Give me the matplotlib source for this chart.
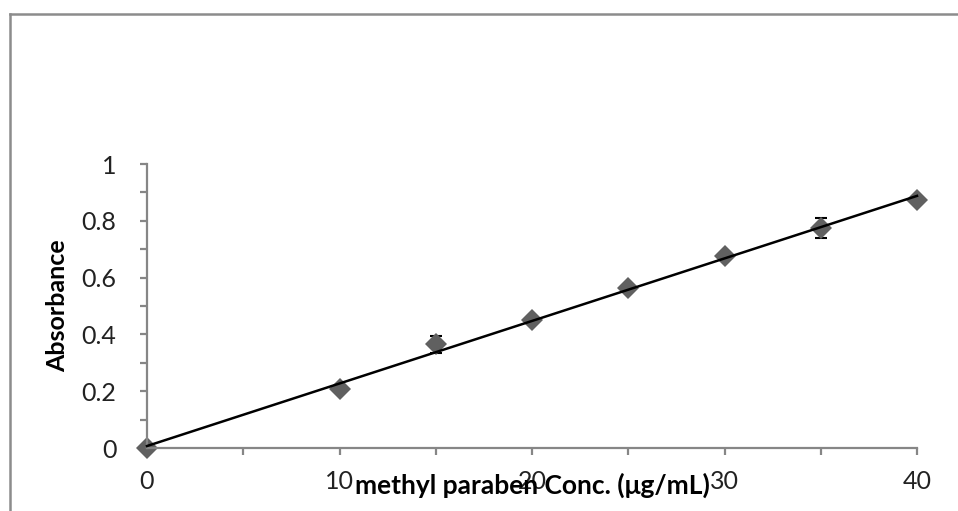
import matplotlib
matplotlib.use("Agg")
import matplotlib.pyplot as plt
import numpy as np
from matplotlib.lines import Line2D

# Data
conc = [0, 10, 15, 20, 25, 30, 35, 40]
absorbance = [0.0, 0.207, 0.365, 0.450, 0.562, 0.675, 0.776, 0.874]
errors = [0, 0, 0.03, 0, 0, 0, 0.035, 0]
x_ticks = [0, 10, 20, 30, 40]
y_ticks = [0, 0.2, 0.4, 0.6, 0.8, 1.0]
y_tick_labels = ["0", "0.2", "0.4", "0.6", "0.8", "1"]
x_label = "methyl paraben Conc. (μg/mL)"
y_label = "Absorbance"

plt.rcParams['font.family'] = ['Lato', 'DejaVu Sans']

W, H = 958, 511
fig = plt.figure(figsize=(W / 100, H / 100), dpi=100)
ax = fig.add_axes([147 / W, 1 - 448 / H, (917 - 147) / W, (448 - 164) / H])

axis_gray = '#868686'
marker_gray = '#606060'

# trendline from linear fit
slope, intercept = np.polyfit(conc, absorbance, 1)
xs = np.array([0, 40])
ax.plot(xs, slope * xs + intercept, color='black', lw=1.8, zorder=3, clip_on=False)

# error bars
ax.errorbar(conc, absorbance, yerr=errors, fmt='none', ecolor='black',
            elinewidth=1.0, capsize=4.5, capthick=1.5, zorder=2, clip_on=False)

ax.plot(conc, absorbance, linestyle='none', marker='D', markersize=11,
        color=marker_gray, markeredgewidth=0, zorder=2.5, clip_on=False)

ax.set_xlim(0, 40)
ax.set_ylim(0, 1)
ax.set_xticks(x_ticks)
ax.set_xticklabels([str(v) for v in x_ticks])
ax.set_xticks([5, 15, 25, 35], minor=True)
ax.set_yticks(y_ticks)
ax.set_yticklabels(y_tick_labels)
ax.set_yticks([0.1, 0.3, 0.5, 0.7, 0.9], minor=True)

for s in ['top', 'right']:
    ax.spines[s].set_visible(False)
for s in ['left', 'bottom']:
    ax.spines[s].set_color(axis_gray)
    ax.spines[s].set_linewidth(1.6)

ax.tick_params(axis='both', which='both', direction='out', length=5,
               width=1.6, color=axis_gray, labelsize=18, labelcolor='#222222')
ax.tick_params(axis='x', which='major', pad=11)
ax.tick_params(axis='y', which='major', pad=17)

ax.set_xlabel(x_label, fontsize=19, fontweight='bold', labelpad=-15)
ax.set_ylabel(y_label, fontsize=18, fontweight='bold', labelpad=9)

# outer chart border (top and left visible)
fig.add_artist(Line2D([10 / W, 10 / W], [0, 1 - 14 / H], transform=fig.transFigure,
                      color='#8c8c8c', lw=1.8))
fig.add_artist(Line2D([10 / W, 1], [1 - 14 / H, 1 - 14 / H], transform=fig.transFigure,
                      color='#8c8c8c', lw=1.8))

fig.savefig('out.png', dpi=100)
